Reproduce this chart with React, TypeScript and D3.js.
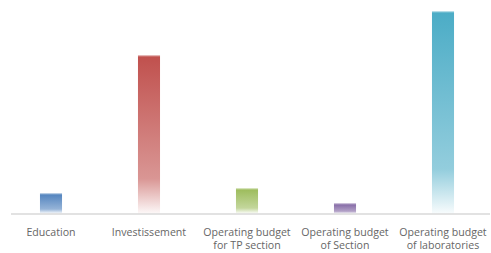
import React from "react";
import * as d3 from "d3";

const categories: string[][] = [
  ["Education"],
  ["Investissement"],
  ["Operating budget", "for TP section"],
  ["Operating budget", "of Section"],
  ["Operating budget", "of laboratories"],
];
const values: number[] = [20, 158, 25, 10, 202];
const colors: string[] = ["#4F81BD", "#C0504D", "#9BBB59", "#8064A2", "#4BACC6"];

export default function App() {
  const W = 491;
  const H = 253;
  const baseline = 213.5;
  const x = d3
    .scaleBand<number>()
    .domain(values.map((_, i) => i))
    .range([2, 492])
    .paddingInner(0.775)
    .paddingOuter(0.3875);
  const y = d3.scaleLinear().domain([0, 202]).range([baseline, baseline - 202]);

  return (
    <svg
      width={W}
      height={H}
      style={{ position: "absolute", left: 0, top: 0, fontFamily: "'Open Sans', Lato, sans-serif" }}
    >
      <defs>
        {colors.map((c, i) => (
          <linearGradient key={i} id={`g${i}`} x1="0" y1="0" x2="0" y2="1">
            <stop offset="0" stopColor={c} stopOpacity={1} />
            <stop offset="0.78" stopColor={c} stopOpacity={0.6} />
            <stop offset="1" stopColor={c} stopOpacity={0.04} />
          </linearGradient>
        ))}
      </defs>
      <rect x={0} y={0} width={W} height={H} fill="#fff" />
      {values.map((v, i) => (
        <g key={i}>
          <rect
            x={x(i)!}
            y={y(v)}
            width={x.bandwidth()}
            height={baseline - y(v)}
            fill={`url(#g${i})`}
          />
          <line
            x1={x(i)!}
            x2={x(i)! + x.bandwidth()}
            y1={y(v) + 0.5}
            y2={y(v) + 0.5}
            stroke="#fff"
            strokeOpacity={0.35}
          />
        </g>
      ))}
      <line x1={11} x2={490} y1={baseline + 0.5} y2={baseline + 0.5} stroke="#d9d9d9" strokeWidth={1.5} />
      {categories.map((lines, i) => (
        <text
          key={i}
          x={x(i)! + x.bandwidth() / 2}
          y={235.5}
          textAnchor="middle"
          fontSize={10.6}
          fill="#666"
        >
          {lines.map((l, j) => (
            <tspan key={j} x={x(i)! + x.bandwidth() / 2} dy={j === 0 ? 0 : 13}>
              {l}
            </tspan>
          ))}
        </text>
      ))}
    </svg>
  );
}
